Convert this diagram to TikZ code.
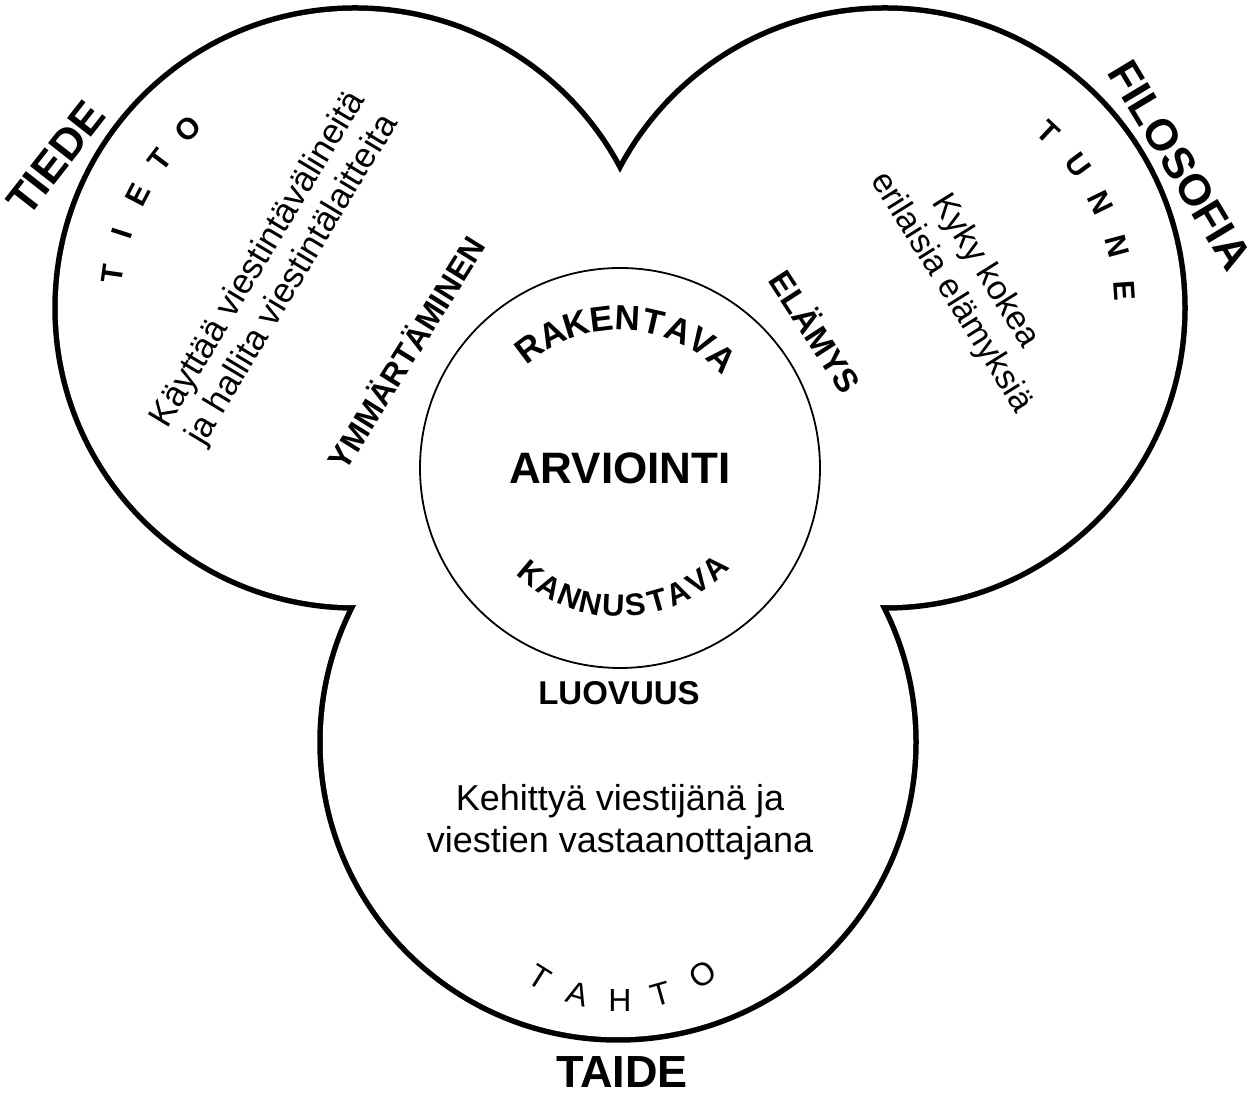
\documentclass[tikz,border=0pt]{standalone}
\usepackage{fontspec}
\setmainfont{Liberation Sans}
\begin{document}
\begin{tikzpicture}[x=1pt,y=1pt,
  outline/.style={line width=11pt},
  boldtxt/.style={font=\bfseries\fontsize{#1}{#1}\selectfont, inner sep=0pt},
  plaintxt/.style 2 args={font=\fontsize{#1}{#2}\selectfont, align=center, inner sep=0pt},
  letter/.style={font=\bfseries\fontsize{#1}{#1}\selectfont, inner sep=0pt},
  thinletter/.style={font=\fontsize{#1}{#1}\selectfont, inner sep=0pt}]
\useasboundingbox (0,0) rectangle (1255,1099);

% centres of the three lobes, the inner circle and the arc of TAHTO
\coordinate (L) at (355,791);
\coordinate (R) at (885,791);
\coordinate (B) at (618,357);
\coordinate (C) at (620,631);
\coordinate (W) at (620,249);

% trefoil outline: thick strokes, then the union filled white
\foreach \p/\r in {L/300,R/300,B/298}
  \draw[outline] (\p) circle[radius=\r-2.75];
\foreach \p/\r in {L/300,R/300,B/298}
  \fill[white] (\p) circle[radius=\r-2.75];

% inner circle with its title
\filldraw[fill=white, line width=1.8pt] (C) circle[radius=200];
\node[boldtxt=44] (arv) at (C) {ARVIOINTI};

% arched words inside the inner circle
\foreach \ch/\a [count=\i] in {R/127,A/117,K/107,E/97,N/87,T/77,A/67,V/57,A/47}
  \node[letter=35, rotate=\a-90] (rak\i) at ([shift={(\a:150)}]C) {\ch};
\foreach \ch/\a [count=\i] in {K/230,A/239.3,N/248.6,N/257.9,U/267.2,S/276.5,T/285.8,A/295.1,V/304.4,A/313.7}
  \node[letter=31, rotate=\a+90] (kan\i) at ([shift={(\a:138)}]C) {\ch};

% lobe titles outside the outline
\node[boldtxt=44, rotate=52] (tiede) at (56,941) {TIEDE};
\node[boldtxt=44, rotate=-59] (filosofia) at (1180,934) {FILOSOFIA};
\node[boldtxt=45] (taide) at (622,27) {TAIDE};

% spaced words along the lobes
\foreach \ch/\a [count=\i] in {T/172,I/162.2,E/152.5,T/142.7,O/133}
  \node[letter=30, rotate=\a-90] (tieto\i) at ([shift={(\a:245)}]L) {\ch};
\foreach \ch/\a [count=\i] in {T/47,U/36.5,N/26,N/15,E/4}
  \node[letter=30, rotate=\a-90] (tunne\i) at ([shift={(\a:240)}]R) {\ch};
\foreach \ch/\a [count=\i] in {T/237.8,A/253.7,H/270,T/285.9,O/303.6}
  \node[thinletter=32, rotate=\a+90] (tahto\i) at ([shift={(\a:150)}]W) {\ch};

% keywords between the lobes and the inner circle
\node[boldtxt=32, rotate=58] (ymm) at (405,747) {YMMÄRTÄMINEN};
\node[boldtxt=33, rotate=-57] (elamys) at (817,768) {ELÄMYS};
\node[boldtxt=33] (luovuus) at (619,406) {LUOVUUS};

% descriptions
\node[plaintxt={35}{40}, rotate=59] (tieto) at (276,829)
  {Käyttää viestintävälineitä\\ja hallita viestintälaitteita};
\node[plaintxt={34}{40}, rotate=-58] (tunne) at (968,817)
  {Kyky kokea\\erilaisia elämyksiä};
\node[plaintxt={36}{42}] (tahto) at (620,277)
  {Kehittyä viestijänä ja\\viestien vastaanottajana};
\end{tikzpicture}
\end{document}
